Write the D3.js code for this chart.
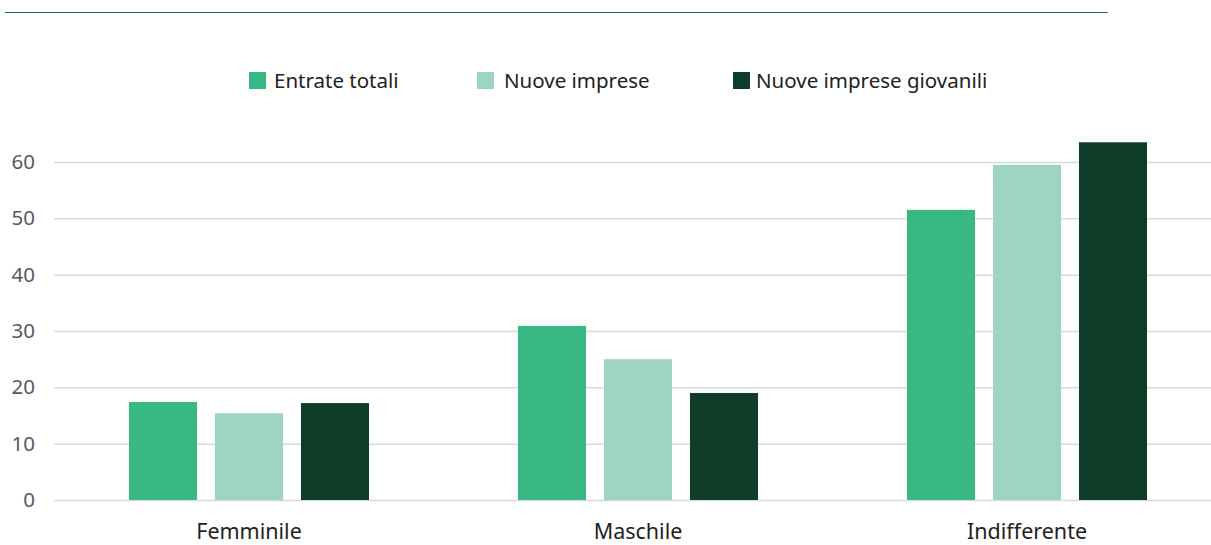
<!DOCTYPE html>
<html>
<head>
<meta charset="utf-8">
<script src="https://cdn.jsdelivr.net/npm/d3@7"></script>
<style>
  html, body { margin: 0; padding: 0; background: #fff; }
  svg { display: block; }
  text { font-family: "Noto Sans", "Open Sans", sans-serif; }
</style>
</head>
<body>
<svg id="chart" width="1211" height="545"></svg>
<script>
const categories = ["Femminile", "Maschile", "Indifferente"];
const seriesNames = ["Entrate totali", "Nuove imprese", "Nuove imprese giovanili"];
const entrateTotali = [17.4, 30.9, 51.5];
const nuoveImprese = [15.4, 25.0, 59.5];
const nuoveImpreseGiovanili = [17.2, 19.0, 63.5];
const yTicks = [0, 10, 20, 30, 40, 50, 60];
const colors = ["#38b984", "#9dd5c2", "#0d3d28"];

const seriesValues = [entrateTotali, nuoveImprese, nuoveImpreseGiovanili];
const data = categories.map((c, i) => ({
  category: c,
  values: seriesNames.map((s, j) => ({ series: s, value: seriesValues[j][i], idx: j }))
}));

const FONT = "'Noto Sans', 'Open Sans', sans-serif";
const svg = d3.select("#chart");
const W = 1211;

// top rule
svg.append("line")
  .attr("x1", 5).attr("x2", 1108).attr("y1", 12.5).attr("y2", 12.5)
  .attr("stroke", "#137a55").attr("stroke-width", 1.2);

const y = d3.scaleLinear().domain([0, 60]).range([500, 162]);
const x0 = d3.scaleBand().domain(categories).range([54.5, 1221.5])
  .paddingInner(0.383).paddingOuter(0.1915);
const x1 = d3.scaleBand().domain(seriesNames).range([0, x0.bandwidth()])
  .paddingInner(0.209).paddingOuter(0);

// gridlines + y labels
const yAxis = d3.axisLeft(y).tickValues(yTicks).tickSize(-(W - 54)).tickPadding(19);
const gy = svg.append("g").attr("transform", "translate(54,0)").call(yAxis);
gy.select(".domain").remove();
gy.selectAll(".tick line").attr("stroke", "#d9d9d9").attr("stroke-width", 1.5);
gy.selectAll(".tick text").attr("fill", "#595959").attr("font-size", 20.5)
  .attr("font-family", FONT);

// bars
const groups = svg.append("g").selectAll("g").data(data).join("g")
  .attr("transform", d => `translate(${x0(d.category)},0)`);
groups.selectAll("rect").data(d => d.values).join("rect")
  .attr("x", d => x1(d.series))
  .attr("width", x1.bandwidth())
  .attr("y", d => y(d.value))
  .attr("height", d => y(0) - y(d.value))
  .attr("fill", d => colors[d.idx]);

// x axis labels
const xAxis = d3.axisBottom(x0).tickSize(0).tickPadding(24);
const gx = svg.append("g").attr("transform", "translate(0,500)").call(xAxis);
gx.select(".domain").remove();
gx.selectAll(".tick text").attr("fill", "#222").attr("font-size", 21.5)
  .attr("font-family", FONT);

// legend
const legendX = [249, 477, 733];
const legendTextX = [274, 504, 756];
const lg = svg.append("g").selectAll("g").data(seriesNames).join("g");
lg.append("rect").attr("x", (d, i) => legendX[i]).attr("y", 72)
  .attr("width", 17).attr("height", 17).attr("fill", (d, i) => colors[i]);
lg.append("text").attr("x", (d, i) => legendTextX[i]).attr("y", 88)
  .attr("font-size", 20.5).attr("fill", "#222")
  .attr("font-family", FONT)
  .text(d => d);
</script>
</body>
</html>
